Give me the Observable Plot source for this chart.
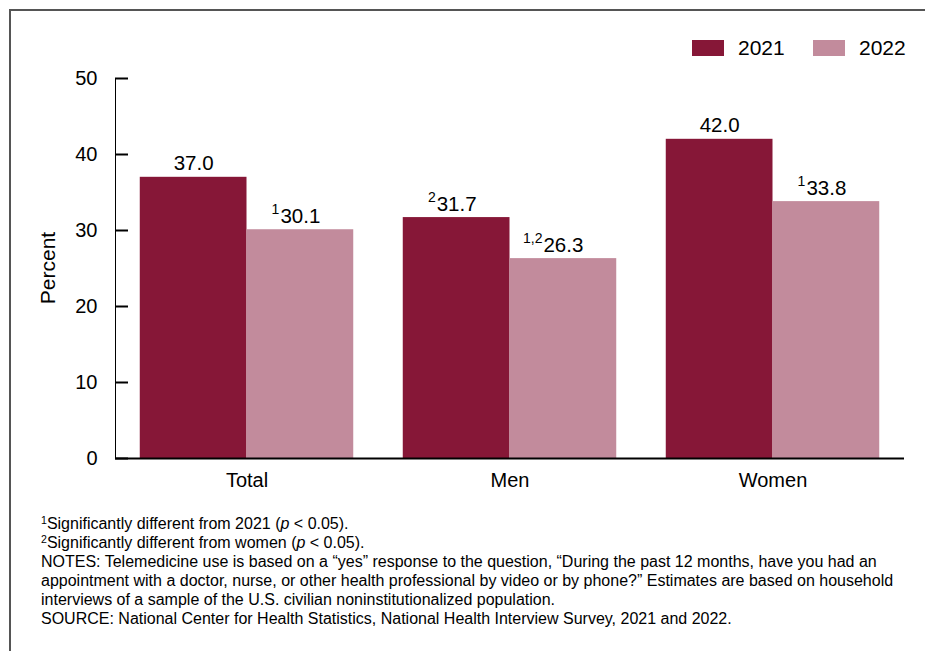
<!DOCTYPE html>
<html>
<head>
<meta charset="utf-8">
<script src="https://cdn.jsdelivr.net/npm/d3@7"></script>
<script src="https://cdn.jsdelivr.net/npm/@observablehq/plot@0.6"></script>
<style>
  body { margin: 0; background: #fff; }
  #figure {
    position: relative; width: 925px; height: 651px; overflow: hidden;
    font-family: "Liberation Sans", Arial, Helvetica, sans-serif; color: #000;
  }
  #border {
    position: absolute; left: 9px; top: 9px; width: 940px; height: 660px;
    border: 2px solid #555; box-sizing: border-box;
  }
  #chart { position: absolute; left: 0; top: 0; }
  #chart g[aria-label^="y-axis"] { stroke-width: 2px; stroke: #000; }
  #chart g[aria-label="y-axis tick label"] { stroke: none; }
  #ylabel {
    position: absolute; left: 48px; top: 268px; font-size: 21px;
    transform: translate(-50%, -50%) rotate(-90deg); white-space: nowrap;
  }
  .legend { position: absolute; top: 37px; height: 22px; display: flex; align-items: center; font-size: 21px; }
  .legend .sw { width: 32px; height: 16px; margin-right: 14px; }
  #notes {
    position: absolute; left: 41px; top: 514px; font-size: 16px; line-height: 19px;
    white-space: nowrap;
  }
  #notes .sup { font-size: 0.66em; position: relative; top: -0.45em; line-height: 0; }
</style>
</head>
<body>
<div id="figure">
  <div id="border"></div>
  <div id="chart"></div>
  <div id="ylabel">Percent</div>
  <div class="legend" style="left:692px"><div class="sw" id="sw0"></div><span>2021</span></div>
  <div class="legend" style="left:813px"><div class="sw" id="sw1"></div><span>2022</span></div>
  <div id="notes">
    <div><span class="sup">1</span>Significantly different from 2021 (<i>p</i> &lt; 0.05).</div>
    <div><span class="sup">2</span>Significantly different from women (<i>p</i> &lt; 0.05).</div>
    <div>NOTES: Telemedicine use is based on a “yes” response to the question, “During the past 12 months, have you had an</div>
    <div>appointment with a doctor, nurse, or other health professional by video or by phone?” Estimates are based on household</div>
    <div>interviews of a sample of the U.S. civilian noninstitutionalized population.</div>
    <div>SOURCE: National Center for Health Statistics, National Health Interview Survey, 2021 and 2022.</div>
  </div>
</div>
<script>
// Telemedicine use in the past 12 months, by sex: 2021 and 2022 (percent)
const groups = ["Total", "Men", "Women"];
const years = ["2021", "2022"];
const pct2021 = [37.0, 31.7, 42.0];
const pct2022 = [30.1, 26.3, 33.8];
// significance footnote markers attached to each estimate
const sig2021 = ["", "2", ""];
const sig2022 = ["1", "1,2", "1"];
const yTicks = [0, 10, 20, 30, 40, 50];
const colors = ["#861737", "#c28b9c"];

const rows = groups.flatMap((g, i) => [
  {group: g, year: years[0], value: pct2021[i], note: sig2021[i]},
  {group: g, year: years[1], value: pct2022[i], note: sig2022[i]}
]);

document.getElementById("sw0").style.background = colors[0];
document.getElementById("sw1").style.background = colors[1];

const font = '"Liberation Sans", Arial, Helvetica, sans-serif';
const labelSize = 20.5;
const fmt = d3.format(".1f");

// width of a value label, used to hang the footnote marker off its left edge
const ctx = document.createElement("canvas").getContext("2d");
ctx.font = `${labelSize}px ${font}`;
const labelWidth = ctx.measureText(fmt(pct2022[0])).width;

const chart = Plot.plot({
  width: 925,
  height: 500,
  marginLeft: 115,
  marginRight: 21,
  marginTop: 78,
  marginBottom: 42,
  style: {fontFamily: font, fontSize: "20px", color: "#000", background: "transparent", overflow: "visible"},
  fx: {domain: groups, paddingInner: 0, paddingOuter: 0, round: false, axis: "bottom", tickSize: 0, tickPadding: 14, label: null},
  x: {domain: years, paddingInner: 0, paddingOuter: 0.232, round: false, axis: null},
  y: {domain: [0, 50], ticks: yTicks, tickSize: -13, tickPadding: 31, tickFormat: d3.format("d"), label: null, line: true},
  color: {domain: years, range: colors},
  marks: [
    Plot.barY(rows, {fx: "group", x: "year", y: "value", fill: "year"}),
    Plot.ruleY([0], {stroke: "#000", strokeWidth: 2}),
    Plot.text(rows, {
      fx: "group", x: "year", y: "value", text: d => fmt(d.value),
      lineAnchor: "bottom", dy: -7, fontSize: labelSize, fill: "#000"
    }),
    Plot.text(rows.filter(d => d.note), {
      fx: "group", x: "year", y: "value", text: "note",
      textAnchor: "end", lineAnchor: "bottom", dx: -labelWidth / 2 - 1, dy: -16,
      fontSize: 14, fill: "#000"
    })
  ]
});
document.getElementById("chart").appendChild(chart);
</script>
</body>
</html>
